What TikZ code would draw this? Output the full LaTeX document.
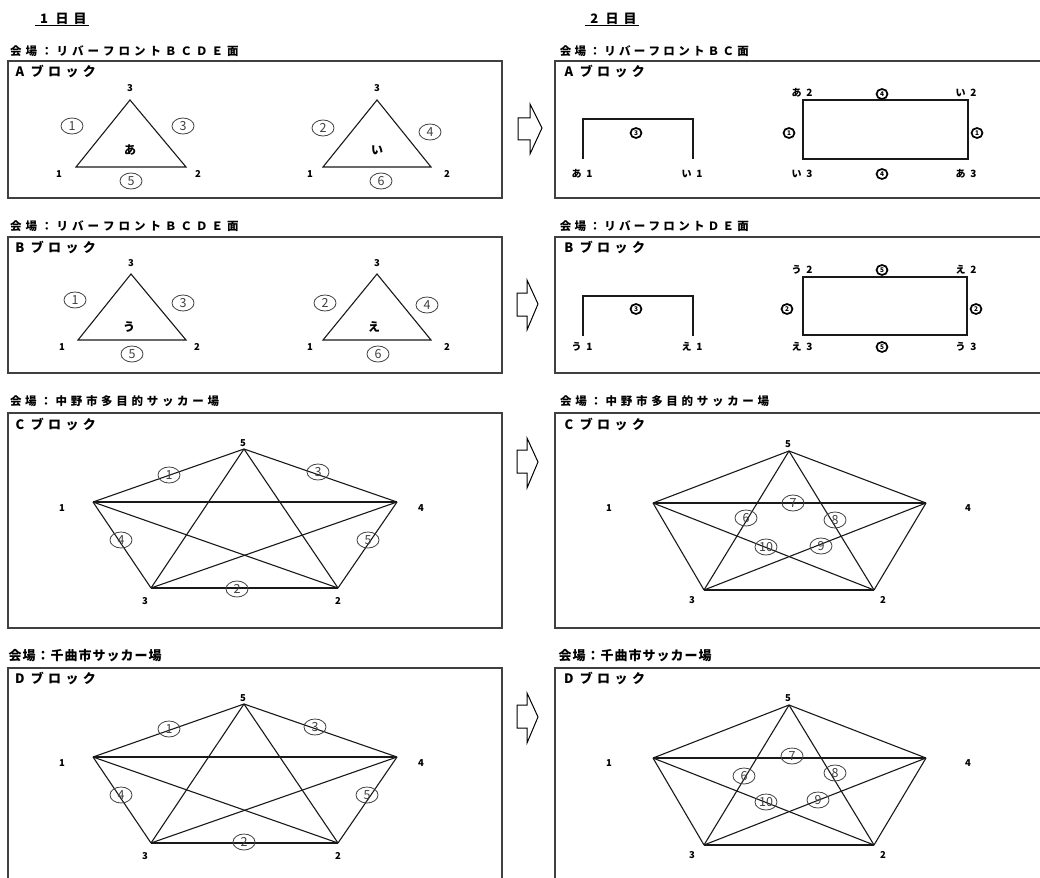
\documentclass[tikz,border=0pt]{standalone}
\usepackage{fontspec}
\setmainfont{Noto Sans CJK JP}
\usetikzlibrary{shapes.geometric}
\newdimen\spcw
\def\spcloop#1{\ifx#1\relax\else\hbox to\spcw{\hss#1\hss}\expandafter\spcloop\fi}
\newcommand\spaced[2]{\spcw=#1\relax\spcloop#2\relax}
\newcommand\pentedges[1]{%
  \foreach \pa/\pb in {t/l,t/r,l/bl,r/br,bl/br,l/r,t/bl,t/br,l/br,bl/r}
    \draw[edgeline] (#1\pa) -- (#1\pb);}
\begin{document}
\begin{tikzpicture}[x=1pt,y=-1pt,
  edgeline/.style={line width=1.1pt,black!90},
  frame/.style={draw=black!75,line width=1.3pt},
  arr/.style={draw=black,line width=1pt,fill=white,line join=miter},
  daylbl/.style={anchor=west,inner sep=0pt,font=\bfseries\fontsize{13}{13}\selectfont},
  ttl/.style={anchor=west,inner sep=0pt,font=\bfseries\fontsize{11.5}{11.5}\selectfont},
  ttlb/.style={anchor=west,inner sep=0pt,font=\bfseries\fontsize{13}{13}\selectfont},
  blk/.style={anchor=west,inner sep=0pt,font=\bfseries\fontsize{13}{13}\selectfont},
  lbl/.style={inner sep=0pt,font=\bfseries\fontsize{9.5}{9.5}\selectfont},
  kana/.style={inner sep=0pt,font=\bfseries\fontsize{12}{12}\selectfont},
  kl/.style={inner sep=0pt,font=\bfseries\fontsize{10}{10}\selectfont},
  cn/.style={ellipse,draw=black!75,line width=0.8pt,minimum width=22pt,minimum height=16pt,inner sep=0pt,text=black!75,font=\fontsize{12.5}{12.5}\selectfont},
  cb/.style={ellipse,draw=black,line width=1.7pt,minimum width=11pt,minimum height=10pt,inner sep=0pt,font=\bfseries\fontsize{6.5}{6.5}\selectfont}
]
\useasboundingbox (0,0) rectangle (1040,877);

% ---------- day headers ----------
\node[daylbl] (d1) at (35,19) {\spaced{18pt}{1日目}};
\draw[line width=1pt] ([yshift=-1pt]d1.south west) -- ([yshift=-1pt]d1.south east);
\node[daylbl] (d2) at (585,19) {\spaced{18pt}{2日目}};
\draw[line width=1pt] ([yshift=-1pt]d2.south west) -- ([yshift=-1pt]d2.south east);

% ---------- titles ----------
\node[ttl] (tA1) at (8,51) {\spaced{15.5pt}{会場：リバーフロントＢＣＤＥ面}};
\node[ttl] (tA2) at (558,51) {\spaced{14.8pt}{会場：リバーフロントＢＣ面}};
\node[ttl] (tB1) at (8,226) {\spaced{15.5pt}{会場：リバーフロントＢＣＤＥ面}};
\node[ttl] (tB2) at (558,226) {\spaced{14.8pt}{会場：リバーフロントＤＥ面}};
\node[ttl] (tC1) at (8,401) {\spaced{15.2pt}{会場：中野市多目的サッカー場}};
\node[ttl] (tC2) at (558,401) {\spaced{15.2pt}{会場：中野市多目的サッカー場}};
\node[ttlb] (tD1) at (8,656) {\spaced{14pt}{会場：千曲市サッカー場}};
\node[ttlb] (tD2) at (558,656) {\spaced{14pt}{会場：千曲市サッカー場}};

% ---------- frames ----------
\draw[frame] (8,61) rectangle (502,198);
\draw[frame] (8,237) rectangle (502,373);
\draw[frame] (8,413) rectangle (502,628);
\draw[frame] (8,890) -- (8,668) -- (502,668) -- (502,890);
\draw[frame] (1045,61) -- (555,61) -- (555,198) -- (1045,198);
\draw[frame] (1045,237) -- (555,237) -- (555,373) -- (1045,373);
\draw[frame] (1045,413) -- (555,413) -- (555,628) -- (1045,628);
\draw[frame] (1045,668) -- (555,668) -- (555,890);

% ---------- block names ----------
\node[blk] (bA1) at (11,71) {\spaced{17.4pt}{Aブロック}};
\node[blk] (bA2) at (560,71) {\spaced{17.4pt}{Aブロック}};
\node[blk] (bB1) at (11,247) {\spaced{17.4pt}{Bブロック}};
\node[blk] (bB2) at (560,247) {\spaced{17.4pt}{Bブロック}};
\node[blk] (bC1) at (11,424) {\spaced{17.4pt}{Cブロック}};
\node[blk] (bC2) at (560,424) {\spaced{17.4pt}{Cブロック}};
\node[blk] (bD1) at (11,678) {\spaced{17.4pt}{Dブロック}};
\node[blk] (bD2) at (560,678) {\spaced{17.4pt}{Dブロック}};

% ---------- arrows ----------
\draw[arr] (518,118) -- (530,118) -- (530,104) -- (542,128) -- (530,154) -- (530,140) -- (518,140) -- cycle;
\draw[arr] (517,293) -- (527,293) -- (527,280) -- (538,304) -- (527,330) -- (527,316) -- (517,316) -- cycle;
\draw[arr] (517,450) -- (527,450) -- (527,438) -- (538,462) -- (527,488) -- (527,473) -- (517,473) -- cycle;
\draw[arr] (517,705) -- (527,705) -- (527,693) -- (538,717) -- (527,743) -- (527,728) -- (517,728) -- cycle;

% ---------- Day 1, A block ----------
\coordinate (aat) at (130,100); \coordinate (aal) at (76,167); \coordinate (aar) at (186,167);
\draw[edgeline] (aat) -- (aal) -- (aar) -- cycle;
\node[lbl] (aan3) at (130,88) {3};
\node[lbl] (aan1) at (59,174) {1};
\node[lbl] (aan2) at (198,174) {2};
\node[cn] (aac1) at (72,126) {1};
\node[cn] (aac3) at (183,126) {3};
\node[cn] (aac5) at (131,181) {5};
\node[kana] (aak) at (130,150) {あ};

\coordinate (ait) at (377,100); \coordinate (ail) at (323,167); \coordinate (air) at (431,167);
\draw[edgeline] (ait) -- (ail) -- (air) -- cycle;
\node[lbl] (ain3) at (377,88) {3};
\node[lbl] (ain1) at (310,174) {1};
\node[lbl] (ain2) at (447,174) {2};
\node[cn] (aic2) at (323,128) {2};
\node[cn] (aic4) at (430,132) {4};
\node[cn] (aic6) at (381,181) {6};
\node[kana] (aik) at (377,150) {い};

% ---------- Day 1, B block ----------
\coordinate (but) at (131,274); \coordinate (bul) at (78,340); \coordinate (bur) at (186,340);
\draw[edgeline] (but) -- (bul) -- (bur) -- cycle;
\node[lbl] (bun3) at (131,263) {3};
\node[lbl] (bun1) at (62,347) {1};
\node[lbl] (bun2) at (197,347) {2};
\node[cn] (buc1) at (75,300) {1};
\node[cn] (buc3) at (183,303) {3};
\node[cn] (buc5) at (132,354) {5};
\node[kana] (buk) at (129,327) {う};

\coordinate (bet) at (377,274); \coordinate (bel) at (323,340); \coordinate (ber) at (431,340);
\draw[edgeline] (bet) -- (bel) -- (ber) -- cycle;
\node[lbl] (ben3) at (377,263) {3};
\node[lbl] (ben1) at (310,347) {1};
\node[lbl] (ben2) at (447,347) {2};
\node[cn] (bec2) at (325,303) {2};
\node[cn] (bec4) at (427,305) {4};
\node[cn] (bec6) at (378,354) {6};
\node[kana] (bek) at (374,327) {え};

% ---------- Day 2, A block ----------
\coordinate (p1a) at (583,159); \coordinate (p1b) at (583,119);
\coordinate (p1c) at (693,119); \coordinate (p1d) at (693,159);
\draw[edgeline] (p1a) -- (p1b) -- (p1c) -- (p1d);
\node[cb] (p1n) at (636,133) {3};
\node[kl] (p1l) at (583,174) {\spaced{13pt}{あ1}};
\node[kl] (p1r) at (693,174) {\spaced{13pt}{い1}};
\coordinate (q1a) at (803,100); \coordinate (q1b) at (968,100);
\coordinate (q1c) at (968,159); \coordinate (q1d) at (803,159);
\draw[edgeline] (q1a) -- (q1b) -- (q1c) -- (q1d) -- cycle;
\node[kl] (q1tl) at (803,93) {\spaced{13pt}{あ2}};
\node[cb] (q1t) at (882,94) {4};
\node[kl] (q1tr) at (967,93) {\spaced{13pt}{い2}};
\node[cb] (q1l) at (789,133) {1};
\node[cb] (q1r) at (977,133) {1};
\node[kl] (q1bl) at (803,174) {\spaced{13pt}{い3}};
\node[cb] (q1b2) at (882,174) {4};
\node[kl] (q1br) at (967,174) {\spaced{13pt}{あ3}};

% ---------- Day 2, B block ----------
\coordinate (p2a) at (583,336); \coordinate (p2b) at (583,296);
\coordinate (p2c) at (693,296); \coordinate (p2d) at (693,336);
\draw[edgeline] (p2a) -- (p2b) -- (p2c) -- (p2d);
\node[cb] (p2n) at (636,309) {3};
\node[kl] (p2l) at (583,347) {\spaced{13pt}{う1}};
\node[kl] (p2r) at (693,347) {\spaced{13pt}{え1}};
\coordinate (q2a) at (803,277); \coordinate (q2b) at (967,277);
\coordinate (q2c) at (967,335); \coordinate (q2d) at (803,335);
\draw[edgeline] (q2a) -- (q2b) -- (q2c) -- (q2d) -- cycle;
\node[kl] (q2tl) at (803,270) {\spaced{13pt}{う2}};
\node[cb] (q2t) at (882,270) {5};
\node[kl] (q2tr) at (967,270) {\spaced{13pt}{え2}};
\node[cb] (q2l) at (787,309) {2};
\node[cb] (q2r) at (976,309) {2};
\node[kl] (q2bl) at (803,347) {\spaced{13pt}{え3}};
\node[cb] (q2b2) at (882,347) {5};
\node[kl] (q2br) at (967,347) {\spaced{13pt}{う3}};

% ---------- Day 1, C block ----------
\coordinate (ct) at (244,449); \coordinate (cl) at (93,502); \coordinate (cr) at (397,502);
\coordinate (cbl) at (151,588); \coordinate (cbr) at (338,588);
\pentedges{c}
\node[lbl] (cn5) at (243,443) {5};
\node[lbl] (cn1) at (62,508) {1};
\node[lbl] (cn4) at (421,508) {4};
\node[lbl] (cn3) at (145,601) {3};
\node[lbl] (cn2) at (338,601) {2};
\node[cn] (cc1) at (169,475) {1};
\node[cn] (cc3) at (318,472) {3};
\node[cn] (cc4) at (121,540) {4};
\node[cn] (cc5) at (368,540) {5};
\node[cn] (cc2) at (237,589) {2};

% ---------- Day 2, C block ----------
\coordinate (ft) at (789,451); \coordinate (fl) at (653,503); \coordinate (fr) at (926,503);
\coordinate (fbl) at (704,590); \coordinate (fbr) at (874,590);
\pentedges{f}
\node[lbl] (fn5) at (788,444) {5};
\node[lbl] (fn1) at (609,508) {1};
\node[lbl] (fn4) at (968,508) {4};
\node[lbl] (fn3) at (692,600) {3};
\node[lbl] (fn2) at (883,600) {2};
\node[cn] (fc7) at (793,503) {7};
\node[cn] (fc6) at (746,518) {6};
\node[cn] (fc8) at (835,520) {8};
\node[cn] (fc10) at (766,547) {10};
\node[cn] (fc9) at (821,546) {9};

% ---------- Day 1, D block ----------
\coordinate (dt) at (244,704); \coordinate (dl) at (93,757); \coordinate (dr) at (397,757);
\coordinate (dbl) at (151,843); \coordinate (dbr) at (338,843);
\pentedges{d}
\node[lbl] (dn5) at (243,698) {5};
\node[lbl] (dn1) at (62,763) {1};
\node[lbl] (dn4) at (421,763) {4};
\node[lbl] (dn3) at (145,856) {3};
\node[lbl] (dn2) at (338,856) {2};
\node[cn] (dc1) at (169,729) {1};
\node[cn] (dc3) at (315,727) {3};
\node[cn] (dc4) at (121,795) {4};
\node[cn] (dc5) at (367,795) {5};
\node[cn] (dc2) at (244,842) {2};

% ---------- Day 2, D block ----------
\coordinate (gt) at (789,705); \coordinate (gl) at (653,758); \coordinate (gr) at (926,758);
\coordinate (gbl) at (704,845); \coordinate (gbr) at (874,845);
\pentedges{g}
\node[lbl] (gn5) at (788,698) {5};
\node[lbl] (gn1) at (609,763) {1};
\node[lbl] (gn4) at (968,763) {4};
\node[lbl] (gn3) at (692,855) {3};
\node[lbl] (gn2) at (883,855) {2};
\node[cn] (gc7) at (792,756) {7};
\node[cn] (gc6) at (744,776) {6};
\node[cn] (gc8) at (835,773) {8};
\node[cn] (gc10) at (766,802) {10};
\node[cn] (gc9) at (818,800) {9};
\end{tikzpicture}
\end{document}
